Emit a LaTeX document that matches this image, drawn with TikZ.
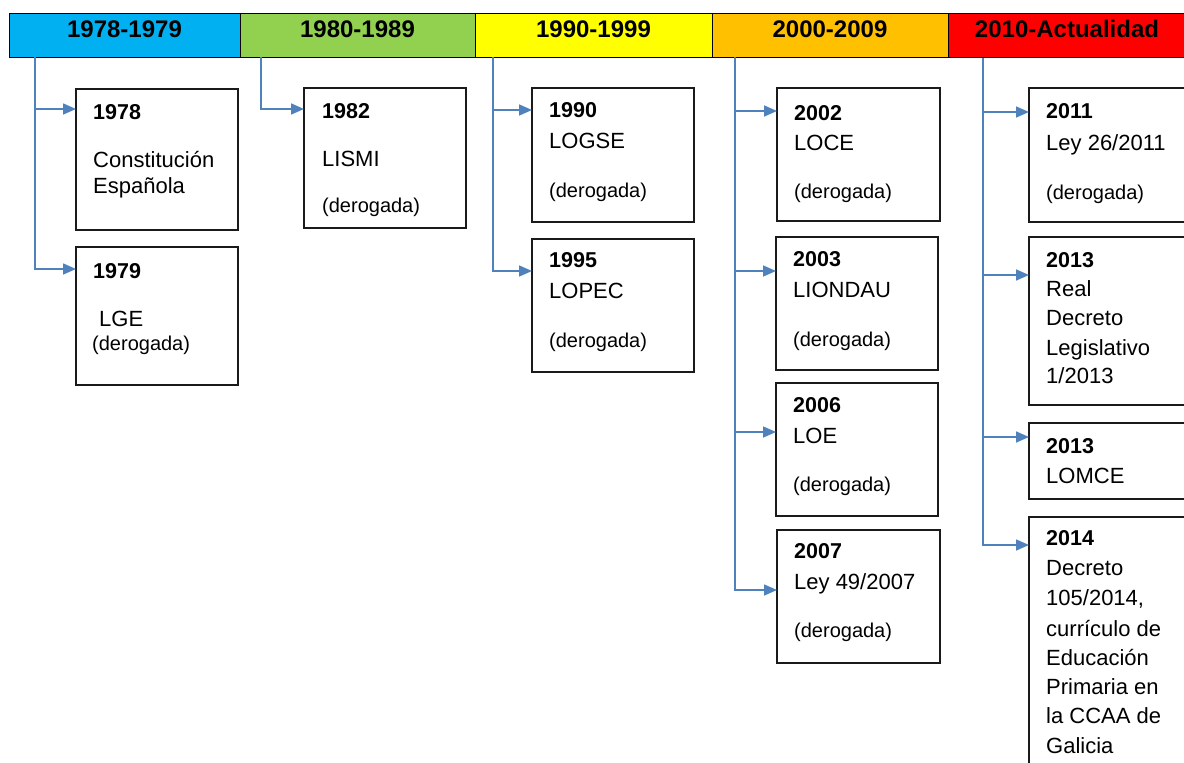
\documentclass[tikz,border=0pt]{standalone}
\usepackage{fontspec}
\setmainfont{Liberation Sans}
\usetikzlibrary{arrows.meta}
\definecolor{hblue}{HTML}{00B0F0}
\definecolor{hgreen}{HTML}{92D050}
\definecolor{hyellow}{HTML}{FFFF00}
\definecolor{horange}{HTML}{FFC000}
\definecolor{hred}{HTML}{FF0000}
\definecolor{conncol}{HTML}{4F81BD}
\definecolor{boxcol}{HTML}{1A1A1A}
\begin{document}
\begin{tikzpicture}[x=1pt,y=-1pt,
  hcell/.style={draw=black,line width=1pt,anchor=north west,inner sep=0,outer sep=0,minimum height=44pt},
  htxt/.style={anchor=base,inner sep=0,font=\bfseries\fontsize{24}{28}\selectfont},
  lawbox/.style={draw=boxcol,line width=1.2pt,anchor=north west,inner sep=0,outer sep=0,fill=white},
  txt/.style={anchor=base west,inner sep=0,font=\fontsize{22}{25}\selectfont},
  yr/.style={anchor=base west,inner sep=0,font=\bfseries\fontsize{21.5}{25}\selectfont},
  der/.style={anchor=base west,inner sep=0,font=\fontsize{20}{23}\selectfont},
  conn/.style={draw=conncol,line width=1.6pt,-{Triangle[length=13pt,width=11pt]}}
]
\useasboundingbox (0,0) rectangle (1184,763);
\begin{scope}
\clip (0,0) rectangle (1184,763);
% header
\node[hcell,fill=hblue,minimum width=231pt] (h1) at (9,13) {};
\node[hcell,fill=hgreen,minimum width=235pt] (h2) at (240,13) {};
\node[hcell,fill=hyellow,minimum width=237pt] (h3) at (475,13) {};
\node[hcell,fill=horange,minimum width=236pt] (h4) at (712,13) {};
\node[hcell,fill=hred,minimum width=242pt] (h5) at (948,13) {};
\node[htxt] (ht1) at (124.5,37.5) {1978-1979};
\node[htxt] (ht2) at (357.5,37.5) {1980-1989};
\node[htxt] (ht3) at (593.5,37.5) {1990-1999};
\node[htxt] (ht4) at (830,37.5) {2000-2009};
\node[htxt] (ht5) at (1067,37.5) {2010-Actualidad};
% trunk tops
\coordinate (c1) at (35,57);
\coordinate (c2) at (261,57);
\coordinate (c3) at (493,57);
\coordinate (c4) at (735,57);
\coordinate (c5) at (983,58);
% boxes
\node[lawbox,minimum width=162pt,minimum height=141pt] (b1978) at (76,89) {};
\node[lawbox,minimum width=162pt,minimum height=138pt] (b1979) at (76,247) {};
\node[lawbox,minimum width=162pt,minimum height=140pt] (b1982) at (304,88) {};
\node[lawbox,minimum width=162pt,minimum height=134pt] (b1990) at (532,88) {};
\node[lawbox,minimum width=162pt,minimum height=133pt] (b1995) at (532,239) {};
\node[lawbox,minimum width=163pt,minimum height=133pt] (b2002) at (777,88) {};
\node[lawbox,minimum width=162pt,minimum height=133pt] (b2003) at (776,237) {};
\node[lawbox,minimum width=162pt,minimum height=133pt] (b2006) at (776,383) {};
\node[lawbox,minimum width=163pt,minimum height=133pt] (b2007) at (777,530) {};
\node[lawbox,minimum width=170pt,minimum height=134pt] (b2011) at (1029,88) {};
\node[lawbox,minimum width=170pt,minimum height=168pt] (b2013a) at (1029,237) {};
\node[lawbox,minimum width=170pt,minimum height=76pt] (b2013b) at (1029,423) {};
\node[lawbox,minimum width=170pt,minimum height=270pt] (b2014) at (1029,517) {};
% connectors
\draw[conn] (c1) |- ([yshift=-20pt]b1978.north west);
\draw[conn] (c1) |- ([yshift=-22pt]b1979.north west);
\draw[conn] (c2) |- ([yshift=-21pt]b1982.north west);
\draw[conn] (c3) |- ([yshift=-22pt]b1990.north west);
\draw[conn] (c3) |- ([yshift=-32pt]b1995.north west);
\draw[conn] (c4) |- ([yshift=-23pt]b2002.north west);
\draw[conn] (c4) |- ([yshift=-34pt]b2003.north west);
\draw[conn] (c4) |- ([yshift=-49pt]b2006.north west);
\draw[conn] (c4) |- ([yshift=-60pt]b2007.north west);
\draw[conn] (c5) |- ([yshift=-24pt]b2011.north west);
\draw[conn] (c5) |- ([yshift=-38pt]b2013a.north west);
\draw[conn] (c5) |- ([yshift=-14pt]b2013b.north west);
\draw[conn] (c5) |- ([yshift=-28pt]b2014.north west);
% texts column 1
\node[yr] (t1978a) at (93,119) {1978};
\node[txt] (t1978b) at (93,167) {Constitución};
\node[txt] (t1978c) at (93,193) {Española};
\node[yr] (t1979a) at (93,278) {1979};
\node[txt] (t1979b) at (99,326) {LGE};
\node[der] (t1979c) at (92,350) {(derogada)};
% column 2
\node[yr] (t1982a) at (322,118) {1982};
\node[txt] (t1982b) at (322,166) {LISMI};
\node[der] (t1982c) at (322,212) {(derogada)};
% column 3
\node[yr] (t1990a) at (549,117) {1990};
\node[txt] (t1990b) at (549,148) {LOGSE};
\node[der] (t1990c) at (549,197) {(derogada)};
\node[yr] (t1995a) at (549,267) {1995};
\node[txt] (t1995b) at (549,298) {LOPEC};
\node[der] (t1995c) at (549,347) {(derogada)};
% column 4
\node[yr] (t2002a) at (794,120) {2002};
\node[txt] (t2002b) at (794,150) {LOCE};
\node[der] (t2002c) at (794,198) {(derogada)};
\node[yr] (t2003a) at (793,266) {2003};
\node[txt] (t2003b) at (793,297) {LIONDAU};
\node[der] (t2003c) at (793,346) {(derogada)};
\node[yr] (t2006a) at (793,412) {2006};
\node[txt] (t2006b) at (793,443) {LOE};
\node[der] (t2006c) at (793,491) {(derogada)};
\node[yr] (t2007a) at (794,558) {2007};
\node[txt] (t2007b) at (794,589) {Ley 49/2007};
\node[der] (t2007c) at (794,637) {(derogada)};
% column 5
\node[yr] (t2011a) at (1046,118) {2011};
\node[txt] (t2011b) at (1046,150) {Ley 26/2011};
\node[der] (t2011c) at (1046,199) {(derogada)};
\node[yr] (t2013a1) at (1046,267) {2013};
\node[txt] (t2013a2) at (1046,296) {Real};
\node[txt] (t2013a3) at (1046,325) {Decreto};
\node[txt] (t2013a4) at (1046,355) {Legislativo};
\node[txt] (t2013a5) at (1046,383) {1/2013};
\node[yr] (t2013b1) at (1046,453) {2013};
\node[txt] (t2013b2) at (1046,483) {LOMCE};
\node[yr] (t2014a) at (1046,545) {2014};
\node[txt] (t2014b) at (1046,575) {Decreto};
\node[txt] (t2014c) at (1046,605) {105/2014,};
\node[txt] (t2014d) at (1046,636) {currículo de};
\node[txt] (t2014e) at (1046,665) {Educación};
\node[txt] (t2014f) at (1046,694) {Primaria en};
\node[txt] (t2014g) at (1046,723) {la CCAA de};
\node[txt] (t2014h) at (1046,753) {Galicia};
\end{scope}
\end{tikzpicture}
\end{document}
